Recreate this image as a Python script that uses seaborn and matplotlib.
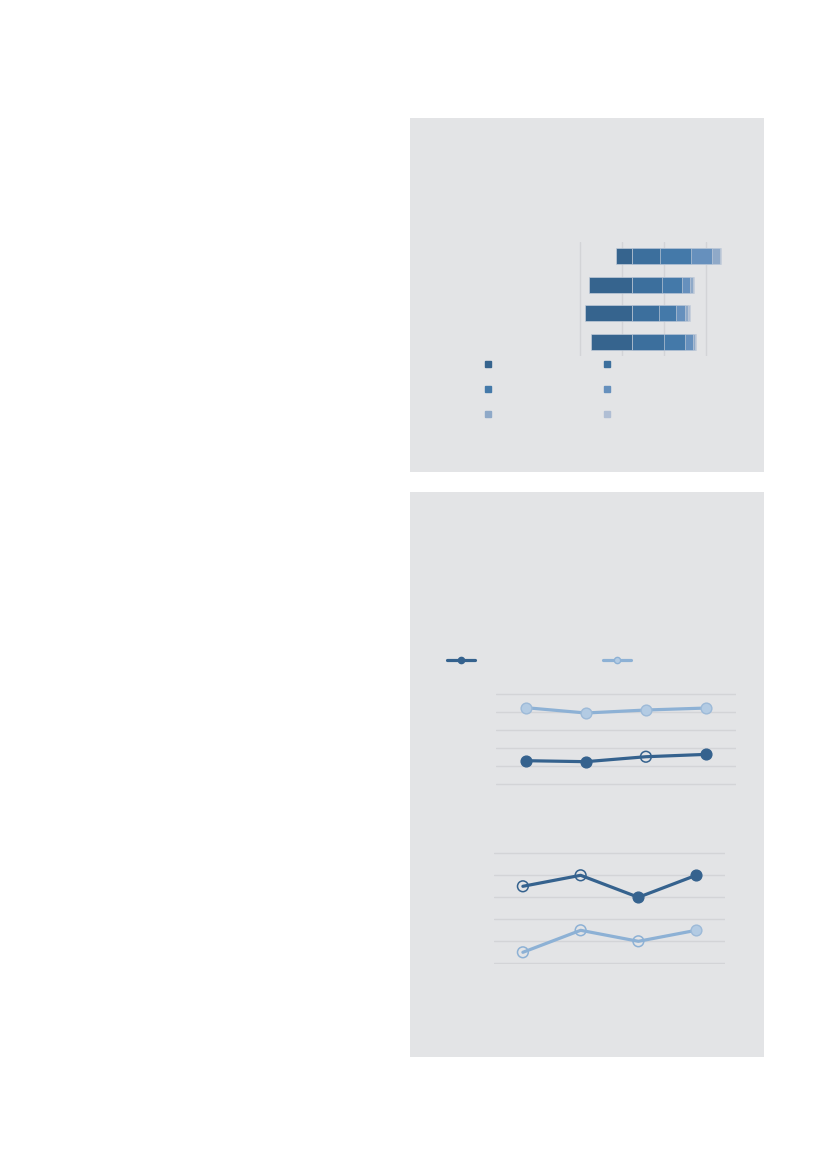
import numpy as np
import pandas as pd
import seaborn as sns
import matplotlib.pyplot as plt
from matplotlib.patches import Rectangle
from matplotlib.lines import Line2D

# --- data -------------------------------------------------------------
groups = ["Group 1", "Group 2", "Group 3", "Group 4"]
# share in each answer category (first one drawn to the left of zero)
seg1 = [15.5, 41.5, 45.5, 39.5]
seg2 = [26.3, 28.0, 25.5, 30.0]
seg3 = [29.4, 19.0, 16.0, 20.0]
seg4 = [19.9, 7.5, 8.5, 7.5]
seg5 = [7.6, 3.0, 3.5, 2.5]
seg6 = [1.3, 1.0, 1.0, 0.5]
seg_colors = ["#36648e", "#3c6f9d", "#4479a9", "#6690bd", "#8fa9c8", "#b0bed4"]

waves = [0, 1, 2, 3]
a_dark = [25.9, 24.8, 30.3, 32.9]
a_light = [84.8, 78.9, 82.2, 84.4]
a_dark_filled = [True, True, False, True]
a_light_filled = [True, True, True, True]

b_dark = [3.5, 4.0, 3.0, 4.0]
b_light = [0.5, 1.5, 1.0, 1.5]
b_dark_filled = [False, False, True, True]
b_light_filled = [False, False, False, True]

dark = "#35628e"
light = "#8db1d5"
light_fill = "#b3cbe3"
panel_bg = "#e3e4e6"
grid_col = "#d3d4d7"

W, H = 827, 1169


def fx(px):
    return px / W


def fy(py):
    return 1 - py / H


sns.set_theme(style="white")
fig = plt.figure(figsize=(8.27, 11.69), dpi=100)
fig.patch.set_facecolor("white")

# panel backgrounds
for top, bottom in [(118, 472), (492, 1057)]:
    fig.patches.append(Rectangle((fx(410), fy(bottom)), fx(764) - fx(410), fy(top) - fy(bottom),
                                 transform=fig.transFigure, facecolor=panel_bg, edgecolor="none", zorder=-5))

# --- stacked diverging bars ------------------------------------------
ax = fig.add_axes([fx(577.7), fy(356), fx(170.1), 114 / H])
ax.set_facecolor("none")
pos = np.array([seg2, seg3, seg4, seg5, seg6])
cum = np.cumsum(pos, axis=0)
for i in range(len(cum) - 1, -1, -1):
    df = pd.DataFrame({"group": groups, "value": cum[i]})
    sns.barplot(data=df, x="value", y="group", orient="h", color=seg_colors[i + 1],
                saturation=1, width=0.56, edgecolor="#c6cfdb", linewidth=0.45, ax=ax, zorder=3)
df = pd.DataFrame({"group": groups, "value": -np.array(seg1)})
sns.barplot(data=df, x="value", y="group", orient="h", color=seg_colors[0],
            saturation=1, width=0.56, edgecolor="#c6cfdb", linewidth=0.45, ax=ax, zorder=3)
ax.set_xlim(-52, 110)
ax.set_ylim(3.5, -0.5)
ax.set_xticks([-50, -10, 30, 70])
ax.xaxis.grid(True, color=grid_col, lw=1)
ax.set_axisbelow(True)
ax.tick_params(labelbottom=False, labelleft=False, length=0)
ax.set_xlabel("")
ax.set_ylabel("")
sns.despine(ax=ax, left=True, bottom=True)

handles = [Line2D([], [], marker="s", ls="none", markersize=4.6, color=c) for c in seg_colors]
order = [0, 2, 4, 1, 3, 5]
fig.legend([handles[i] for i in order], [""] * 6, ncol=2, loc="upper left",
           bbox_to_anchor=(fx(484), fy(358)), frameon=False, fontsize=10,
           handlelength=0.6, handletextpad=0, columnspacing=7.96, labelspacing=0.8,
           borderpad=0, borderaxespad=0)


# --- line charts ------------------------------------------------------
def draw_series(ax, y, filled, color, face, edge):
    sns.lineplot(x=waves, y=y, color=color, lw=2.3, ax=ax, zorder=3)
    xs = np.array(waves)
    ys = np.array(y)
    f = np.array(filled)
    sns.scatterplot(x=xs[f], y=ys[f], s=60, color=face, edgecolor=edge, linewidth=1, ax=ax, zorder=4)
    if (~f).any():
        ax.scatter(xs[~f], ys[~f], s=60, facecolors="none", edgecolors=color, linewidths=1.1, zorder=4)


def style_line_axes(ax, ylim, ticks):
    ax.set_facecolor("none")
    ax.set_xlim(-0.5, 3.5)
    ax.set_ylim(*ylim)
    ax.set_yticks(ticks)
    ax.yaxis.grid(True, color=grid_col, lw=1)
    ax.set_axisbelow(True)
    ax.tick_params(labelbottom=False, labelleft=False, length=0)
    sns.despine(ax=ax, left=True, bottom=True)


# chart A: 18 px per 20 units, padded by 2 units each side
axa = fig.add_axes([fx(495.7), fy(785.8), fx(240.3), 93.6 / H])
draw_series(axa, a_light, a_light_filled, light, light_fill, "#9dbad8")
draw_series(axa, a_dark, a_dark_filled, dark, dark, dark)
style_line_axes(axa, (-2, 102), [0, 20, 40, 60, 80, 100])

# chart B: 22 px per unit, padded by 0.05 units each side
axb = fig.add_axes([fx(494), fy(964.4), fx(231), 112.2 / H])
draw_series(axb, b_dark, b_dark_filled, dark, dark, dark)
draw_series(axb, b_light, b_light_filled, light, light_fill, "#9dbad8")
style_line_axes(axb, (-0.05, 5.05), [0, 1, 2, 3, 4, 5])

line_handles = [
    Line2D([], [], color=dark, lw=2.3, marker="o", markersize=4.5, markerfacecolor=dark),
    Line2D([], [], color=light, lw=2.3, marker="o", markersize=4.5, markerfacecolor=light_fill),
]
fig.legend(line_handles, ["", ""], ncol=2, loc="upper left", bbox_to_anchor=(fx(447), fy(654)),
           frameon=False, fontsize=10, handlelength=2.01, handletextpad=0, columnspacing=9.2,
           borderpad=0, borderaxespad=0)

fig.savefig("out.png", dpi=100, facecolor="white")
